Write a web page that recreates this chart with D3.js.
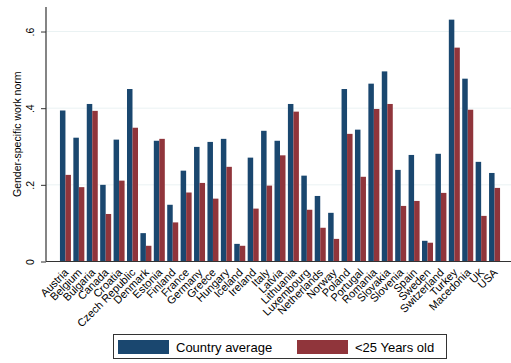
<!DOCTYPE html>
<html>
<head>
<meta charset="utf-8">
<script src="https://cdnjs.cloudflare.com/ajax/libs/d3/7.8.5/d3.min.js"></script>
<style>
  body { margin: 0; background: #fff; }
  svg { font-family: 'Liberation Sans', Arial, sans-serif; display: block; }
</style>
</head>
<body>
<svg id="chart" width="511" height="363"></svg>
<script>
// countries along the x axis
var countries = ["Austria", "Belgium", "Bulgaria", "Canada", "Croatia", "Czech Republic", "Denmark",
  "Estonia", "Finland", "France", "Germany", "Greece", "Hungary", "Iceland", "Ireland", "Italy",
  "Latvia", "Lithuania", "Luxembourg", "Netherlands", "Norway", "Poland", "Portugal", "Romania",
  "Slovakia", "Slovenia", "Spain", "Sweden", "Switzerland", "Turkey", "Macedonia", "UK", "USA"];

// country average
var countryAvg = [0.394, 0.323, 0.411, 0.200, 0.318, 0.450, 0.074, 0.315, 0.148, 0.237, 0.299,
  0.312, 0.320, 0.046, 0.271, 0.341, 0.315, 0.411, 0.224, 0.171, 0.127, 0.450, 0.344, 0.464,
  0.496, 0.239, 0.278, 0.054, 0.281, 0.631, 0.477, 0.260, 0.231];

// under 25 years old
var under25 = [0.226, 0.194, 0.393, 0.124, 0.211, 0.349, 0.041, 0.320, 0.102, 0.180, 0.205,
  0.164, 0.247, 0.041, 0.138, 0.198, 0.277, 0.391, 0.135, 0.088, 0.059, 0.333, 0.221, 0.398,
  0.411, 0.145, 0.158, 0.049, 0.179, 0.558, 0.396, 0.119, 0.192];

var seriesNames = ["Country average", "<25 Years old"];
var colors = ["#1a476f", "#90353b"];
var yTicks = [0, 0.2, 0.4, 0.6];

var svg = d3.select("#chart");
var plotLeft = 46, plotRight = 511, plotTop = 7, plotBottom = 261.5;

var x = d3.scaleBand().domain(countries).range([46, 514]).paddingInner(0.18).paddingOuter(1.04);
var x1 = d3.scaleBand().domain([0, 1]).range([0, x.bandwidth()]);
var y = d3.scaleLinear().domain([0, 0.664]).range([plotBottom, plotTop]);

// grid lines
svg.append("g").selectAll("line")
  .data(yTicks.slice(1))
  .enter().append("line")
    .attr("x1", plotLeft).attr("x2", plotRight)
    .attr("y1", function (d) { return y(d); })
    .attr("y2", function (d) { return y(d); })
    .attr("stroke", "#eaf2f3").attr("stroke-width", 1);

// bars
var rows = countries.map(function (c, i) { return { c: c, v: [countryAvg[i], under25[i]] }; });
var groups = svg.append("g").selectAll("g")
  .data(rows)
  .enter().append("g")
    .attr("transform", function (d) { return "translate(" + x(d.c) + ",0)"; });

groups.selectAll("rect")
  .data(function (d) { return d.v; })
  .enter().append("rect")
    .attr("x", function (d, i) { return x1(i); })
    .attr("width", x1.bandwidth())
    .attr("y", function (d) { return y(d); })
    .attr("height", function (d) { return plotBottom - y(d); })
    .attr("fill", function (d, i) { return colors[i]; });

// y axis
var yAxis = svg.append("g")
  .attr("transform", "translate(" + plotLeft + ",0)")
  .call(d3.axisLeft(y).tickValues(yTicks).tickSize(5).tickPadding(0)
    .tickFormat(function (d) { return d === 0 ? "0" : d3.format(".1f")(d).replace(/^0/, ""); }));
yAxis.select(".domain").remove();
yAxis.selectAll(".tick line").attr("stroke", "#333");
yAxis.selectAll(".tick text")
  .attr("x", null).attr("dy", null)
  .attr("transform", "translate(-12,0) rotate(-90)")
  .attr("text-anchor", "middle")
  .attr("font-size", "10.5px").attr("fill", "#000");

svg.append("line")
  .attr("x1", plotLeft).attr("x2", plotLeft).attr("y1", plotTop).attr("y2", plotBottom)
  .attr("stroke", "#333").attr("stroke-width", 1.2);

svg.append("text")
  .attr("transform", "translate(21," + ((plotTop + plotBottom) / 2) + ") rotate(-90)")
  .attr("text-anchor", "middle")
  .attr("font-size", "10.5px")
  .text("Gender-specific work norm");

// x axis
svg.append("line")
  .attr("x1", plotLeft).attr("x2", plotRight).attr("y1", plotBottom).attr("y2", plotBottom)
  .attr("stroke", "#333").attr("stroke-width", 1.2);

svg.append("g").selectAll("text")
  .data(countries)
  .enter().append("text")
    .attr("transform", function (d) {
      return "translate(" + (x(d) + x.bandwidth() / 2 + 1) + "," + (plotBottom + 9) + ") rotate(-45)";
    })
    .attr("text-anchor", "end")
    .attr("dy", "0.35em")
    .attr("font-size", "11px")
    .text(function (d) { return d; });

// legend
var legend = svg.append("g");
legend.append("rect")
  .attr("x", 113.5).attr("y", 334.5).attr("width", 333).attr("height", 24)
  .attr("fill", "#fff").attr("stroke", "#333").attr("stroke-width", 1);

var legX = [118, 297];
seriesNames.forEach(function (s, i) {
  legend.append("rect")
    .attr("x", legX[i]).attr("y", 340).attr("width", 51).attr("height", 14)
    .attr("fill", colors[i]);
  legend.append("text")
    .attr("x", legX[i] + 58).attr("y", 352)
    .attr("font-size", "13px")
    .text(s);
});
</script>
</body>
</html>
